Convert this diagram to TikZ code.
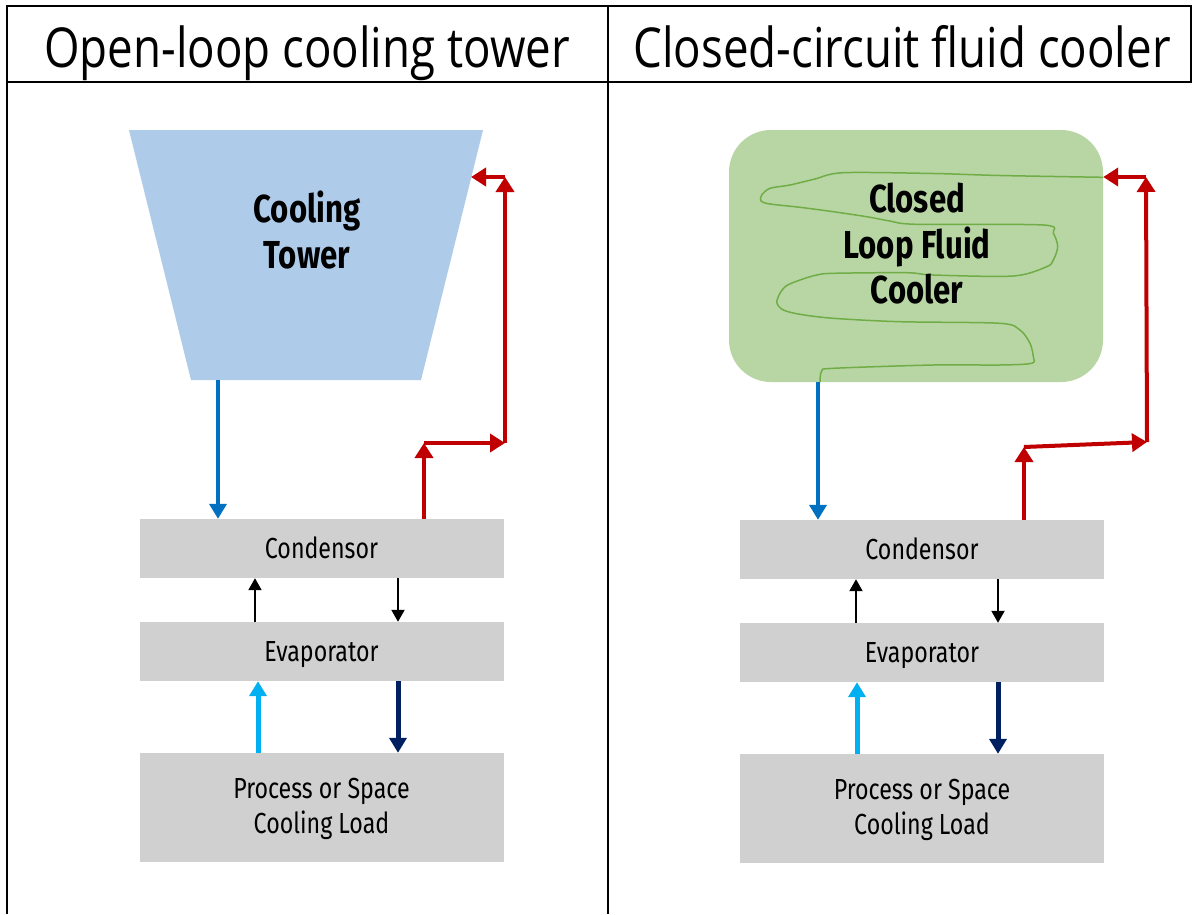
\documentclass[tikz,border=0pt]{standalone}
\usepackage{fontspec}
\setmainfont{Fira Sans}[FakeStretch=0.8]
\newfontfamily\headfont{Open Sans}[FakeStretch=0.83]
\usetikzlibrary{arrows.meta}
\definecolor{boxgray}{RGB}{208,208,208}
\definecolor{towerblue}{RGB}{174,203,233}
\definecolor{coolgreen}{RGB}{184,214,164}
\definecolor{serpgreen}{RGB}{112,173,71}
\definecolor{flowblue}{RGB}{0,112,192}
\definecolor{flowred}{RGB}{192,0,0}
\definecolor{coldblue}{RGB}{0,176,240}
\definecolor{deepblue}{RGB}{0,32,96}
\begin{document}
\begin{tikzpicture}[x=1pt,y=-1pt,
  rule/.style={draw=black, line width=2pt},
  head/.style={font=\headfont\fontsize{55}{66}\selectfont, inner sep=0pt, anchor=base},
  box/.style={fill=boxgray, minimum width=364pt, inner sep=0pt, align=center,
    font=\fontsize{29}{35.5}\selectfont},
  single/.style={text height=20pt, text depth=0pt, minimum height=59pt},
  title/.style={font=\bfseries\fontsize{39}{45.5}\selectfont, align=center, inner sep=0pt},
  blueflow/.style={draw=flowblue, line width=4pt, -{Triangle[length=15pt,width=17pt]}},
  redflow/.style={draw=flowred, line width=4pt, -{Triangle[length=15pt,width=18pt]}},
  thinflow/.style={draw=black, line width=2pt, -{Triangle[length=12pt,width=13pt]}},
  coldflow/.style={draw=coldblue, line width=5pt, -{Triangle[length=15pt,width=17pt]}},
  deepflow/.style={draw=deepblue, line width=5pt, -{Triangle[length=15pt,width=17pt]}},
  serp/.style={draw=serpgreen, line width=1.5pt}
]
\useasboundingbox (0,0) rectangle (1192,914);
\fill[white] (0,0) rectangle (1192,914);

% table rules
\draw[rule] (7,914) -- (7,6) -- (1191,6) -- (1191,82) -- (7,82);
\draw[rule] (608,6) -- (608,914);

% headers
\node[head] (hL) at (307,67) {Open-loop cooling tower};
\node[head] (hR) at (902,67) {Closed-circuit fluid cooler};

% ---------- left panel ----------
\fill[towerblue] (129,130) -- (483,130) -- (421,380) -- (191,380) -- cycle;
\node[title] (towerL) at (307,230) {Cooling\\Tower};
\coordinate (towerLbot) at (218,380);
\coordinate (towerLedge) at (471,177);

\node[box, single] (condL) at (321.5,548.5) {Condensor};
\node[box, single] (evapL) at (321.5,651.5) {Evaporator};
\node[box, minimum height=109pt, text depth=3pt] (procL) at (321.5,807.5) {Process or Space\\Cooling Load};

\coordinate (xLa) at (255,0);
\coordinate (xLb) at (398,0);
\coordinate (xLc) at (258,0);
\coordinate (xLr) at (424,0);
\coordinate (rL1) at (424,443);
\coordinate (rL2) at (505,443);
\coordinate (rL3) at (505,177);

\draw[blueflow] (towerLbot) -- (condL.north -| towerLbot);
\draw[redflow] (condL.north -| xLr) -- (rL1);
\draw[redflow] (rL1) -- (rL2);
\draw[redflow] (rL2) -- (rL3);
\draw[redflow] (rL3) -- (towerLedge);
\draw[thinflow] (evapL.north -| xLa) -- (condL.south -| xLa);
\draw[thinflow] (condL.south -| xLb) -- (evapL.north -| xLb);
\draw[coldflow] (procL.north -| xLc) -- (evapL.south -| xLc);
\draw[deepflow] (evapL.south -| xLb) -- (procL.north -| xLb);

% ---------- right panel ----------
\node[fill=coolgreen, rounded corners=42pt, minimum width=374pt, minimum height=252pt, inner sep=0pt] (coolR) at (916,256) {};
\draw[serp] plot[smooth, tension=0.5] coordinates {
 (1103,177.3) (1000,175.5) (933.3,173.5) (843.3,172.7) (815,179) (790,185) (770,188.3)
 (761.7,195) (761,201) (770,204) (800,207.3) (833.3,211.7) (866.7,216.7)
 (890,221) (916.7,224.3) (1043.3,225) (1053.3,233.3) (1057.7,246.7)
 (1053.3,260) (1046.7,266.7) (1013.3,276) (933.3,275) (906.7,272.7)
 (833.3,273.3) (816.7,275) (800,280) (786,286) (779,295)
 (777,303.3) (783.3,310) (800,314.3) (833.3,318.3) (900,321.7)
 (1000,323.3) (1020,330) (1030,343.3) (1033.3,356.7) (1031.7,363.3)
 (1000,365) (933.3,365) (833.3,368.3) (821.7,371) (820,382)};
\node[title] (coolT) at (917,244) {Closed\\Loop Fluid\\Cooler};

\node[box, single] (condR) at (922,549.5) {Condensor};
\node[box, single] (evapR) at (922,652.5) {Evaporator};
\node[box, minimum height=109pt, text depth=3pt] (procR) at (922,808.5) {Process or Space\\Cooling Load};

\coordinate (xRblue) at (818,0);
\coordinate (xRa) at (856,0);
\coordinate (xRb) at (998,0);
\coordinate (xRc) at (857,0);
\coordinate (xRr) at (1024,0);
\coordinate (rR1) at (1024,447);
\coordinate (rR2) at (1147,442);
\coordinate (rR3) at (1146,177);

\draw[blueflow] (coolR.south -| xRblue) -- (condR.north -| xRblue);
\draw[redflow] (condR.north -| xRr) -- (rR1);
\draw[redflow] (rR1) -- (rR2);
\draw[redflow] (rR2) -- (rR3);
\draw[redflow] (rR3) -- (coolR.east |- rR3);
\draw[thinflow] (evapR.north -| xRa) -- (condR.south -| xRa);
\draw[thinflow] (condR.south -| xRb) -- (evapR.north -| xRb);
\draw[coldflow] (procR.north -| xRc) -- (evapR.south -| xRc);
\draw[deepflow] (evapR.south -| xRb) -- (procR.north -| xRb);
\end{tikzpicture}
\end{document}
